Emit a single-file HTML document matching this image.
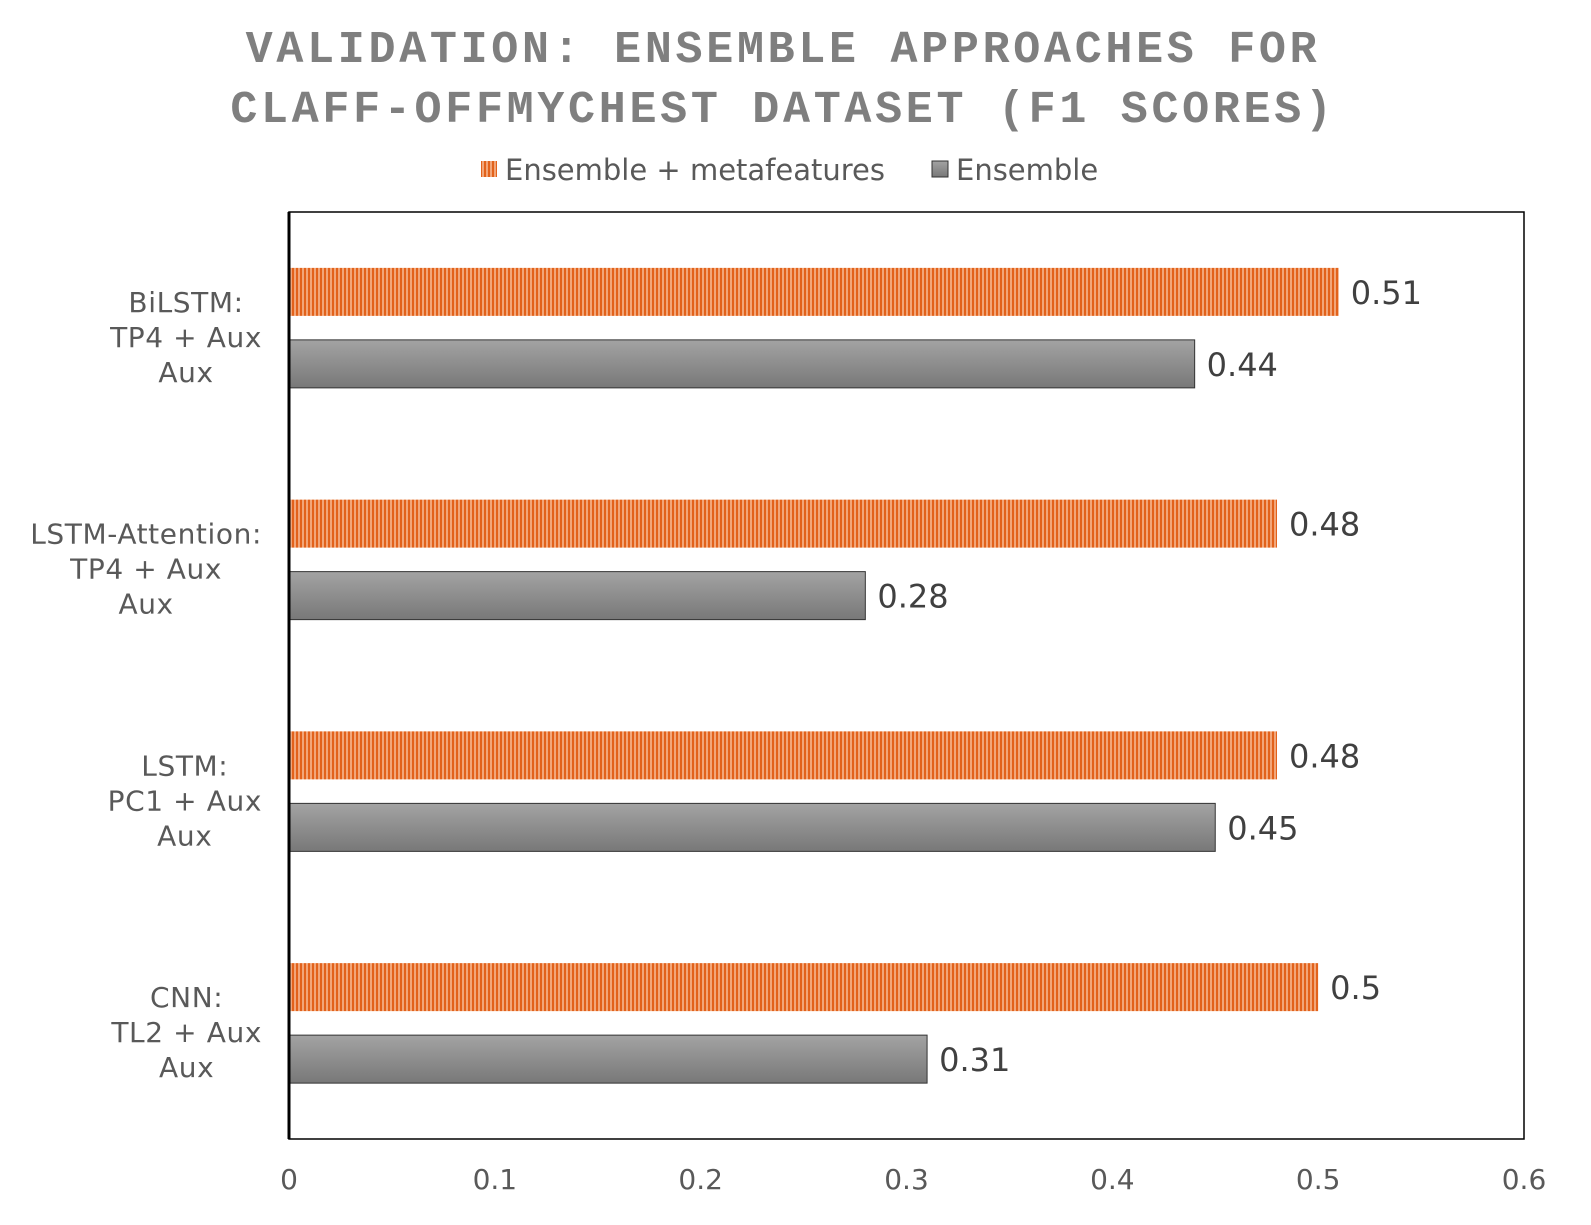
<!DOCTYPE html>
<html><head><meta charset="utf-8">
<style>
html,body{margin:0;padding:0;background:#fff;}
svg{display:block;}
</style></head>
<body>
<svg id="chart" width="1591" height="1225" xmlns="http://www.w3.org/2000/svg">
<defs>
<pattern id="stripes" width="4" height="10" patternUnits="userSpaceOnUse">
<rect width="4" height="10" fill="#f2a679"/>
<rect width="2" height="10" fill="#e2621b"/>
</pattern>
<linearGradient id="grayGrad" x1="0" y1="0" x2="0" y2="1">
<stop offset="0" stop-color="#a3a3a3"/>
<stop offset="1" stop-color="#787878"/>
</linearGradient>
</defs>
<text x="783" y="62" text-anchor="middle" font-family="Liberation Mono, monospace" font-weight="bold" font-size="45" fill="#7f7f7f" letter-spacing="3.7">VALIDATION: ENSEMBLE APPROACHES FOR</text>
<text x="783" y="122" text-anchor="middle" font-family="Liberation Mono, monospace" font-weight="bold" font-size="45" fill="#7f7f7f" letter-spacing="3.7">CLAFF-OFFMYCHEST DATASET (F1 SCORES)</text>
<g font-family="DejaVu Sans, sans-serif" font-size="29" fill="#595959">
<rect x="481" y="161" width="16" height="16" fill="url(#stripes)"/>
<text x="505" y="180">Ensemble + metafeatures</text>
<rect x="932" y="161" width="16" height="16" fill="url(#grayGrad)" stroke="#333" stroke-width="1"/>
<text x="956" y="180">Ensemble</text>
</g>
<rect x="289" y="212" width="1235" height="927" fill="none" stroke="#000" stroke-width="1.5"/>
<g id="bars"></g>
<g id="labels"></g>
<line x1="289" y1="212" x2="289" y2="1139" stroke="#000" stroke-width="3"/>
</svg>
<script>
const categories=[["BiLSTM:","TP4 + Aux","Aux"],["LSTM-Attention:","TP4 + Aux","Aux"],["LSTM:","PC1 + Aux","Aux"],["CNN:","TL2 + Aux","Aux"]];
const metaValues=[0.51,0.48,0.48,0.5];
const ensValues=[0.44,0.28,0.45,0.31];
const tickLabels=["0","0.1","0.2","0.3","0.4","0.5","0.6"];
const tickValues=[0,0.1,0.2,0.3,0.4,0.5,0.6];

const NS="http://www.w3.org/2000/svg";
const L=289,R=1524,T=212,B=1139,XMAX=0.6;
const xs=v=>L+(v/XMAX)*(R-L);
const band=(B-T)/categories.length;
const bars=document.getElementById('bars'),labels=document.getElementById('labels'),svg=document.getElementById('chart');
function mk(tag,attrs,parent){const e=document.createElementNS(NS,tag);for(const k in attrs)e.setAttribute(k,attrs[k]);parent.appendChild(e);return e;}
categories.forEach((cat,i)=>{
  const c=T+band*(i+0.5);
  const y1=c-60,y2=c+12,h=48;
  const r1=mk('rect',{x:L,y:y1,width:xs(metaValues[i])-L,height:h,fill:'url(#stripes)'},bars);
  
  
  const r2=mk('rect',{x:L,y:y2,width:xs(ensValues[i])-L,height:h,fill:'url(#grayGrad)',stroke:'#333','stroke-width':1},bars);
  
  
  const t1=mk('text',{x:xs(metaValues[i])+12,y:y1+h/2+12,'font-family':'DejaVu Sans, sans-serif','font-size':32,fill:'#404040'},labels);
  t1.textContent=String(metaValues[i]);
  
  
  const t2=mk('text',{x:xs(ensValues[i])+12,y:y2+h/2+12,'font-family':'DejaVu Sans, sans-serif','font-size':32,fill:'#404040'},labels);
  t2.textContent=String(ensValues[i]);
  
  
  const g=mk('g',{},labels);
  
  
  const lines=cat.map((s,j)=>{const t=mk('text',{x:0,y:c-26+j*35+10,'font-family':'DejaVu Sans, sans-serif','font-size':28,'letter-spacing':0.6,fill:'#595959','text-anchor':'middle'},g);t.textContent=s;return t;});
  let maxW=0;lines.forEach(t=>{maxW=Math.max(maxW,t.getComputedTextLength());});
  const cx=262-maxW/2;
  lines.forEach(t=>t.setAttribute('x',cx));
});
tickValues.forEach((v,i)=>{
  const t=mk('text',{x:xs(v),y:1189,'text-anchor':'middle','font-family':'DejaVu Sans, sans-serif','font-size':28,fill:'#595959'},svg);
  t.textContent=tickLabels[i];
  
  
});
</script>
</body></html>
